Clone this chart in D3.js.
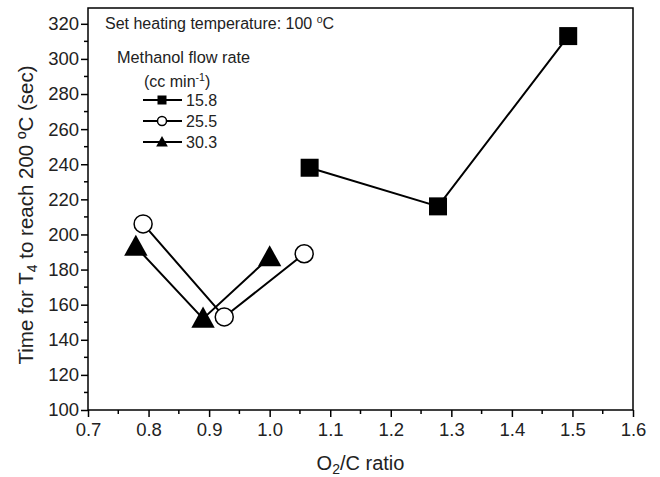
<!DOCTYPE html>
<html>
<head>
<meta charset="utf-8">
<script src="https://cdn.jsdelivr.net/npm/d3@7"></script>
<style>
  html, body { margin: 0; padding: 0; background: #fff; }
  svg { display: block; font-family: "Liberation Sans", Arial, sans-serif; }
</style>
</head>
<body>
<svg id="chart" width="660" height="477"></svg>
<script>
// O2/C ratio vs. time for T4 to reach 200 °C, per methanol flow rate
const series = ["15.8", "25.5", "30.3"];
const markers = ["square", "circle", "triangle"];
const ratio158 = [1.066, 1.278, 1.493];
const time158 = [238, 216, 313];
const ratio255 = [0.791, 0.925, 1.057];
const time255 = [206, 153, 189];
const ratio303 = [0.779, 0.890, 1.000];
const time303 = [193, 152, 187];
const xTicks = [0.7, 0.8, 0.9, 1.0, 1.1, 1.2, 1.3, 1.4, 1.5, 1.6];
const yTicks = [100, 120, 140, 160, 180, 200, 220, 240, 260, 280, 300, 320];

const data = [
  { name: series[0], marker: markers[0], xs: ratio158, ys: time158 },
  { name: series[1], marker: markers[1], xs: ratio255, ys: time255 },
  { name: series[2], marker: markers[2], xs: ratio303, ys: time303 }
];

const svg = d3.select("#chart");
const m = { left: 88, right: 633, top: 8, bottom: 410 };

const x = d3.scaleLinear().domain([0.7, 1.6]).range([m.left, m.right]);
const y = d3.scaleLinear().domain([100, 329]).range([m.bottom, m.top]);

// frame
svg.append("rect")
  .attr("x", m.left).attr("y", m.top)
  .attr("width", m.right - m.left).attr("height", m.bottom - m.top)
  .attr("fill", "none").attr("stroke", "#000").attr("stroke-width", 1.5);

// minor ticks
const xMinor = d3.range(0.75, 1.6, 0.1);
const yMinor = d3.range(110, 330, 20);
svg.append("g").selectAll("line").data(xMinor).join("line")
  .attr("x1", d => x(d)).attr("x2", d => x(d))
  .attr("y1", m.bottom).attr("y2", m.bottom + 4)
  .attr("stroke", "#000").attr("stroke-width", 1.5);
svg.append("g").selectAll("line").data(yMinor).join("line")
  .attr("y1", d => y(d)).attr("y2", d => y(d))
  .attr("x1", m.left).attr("x2", m.left - 4)
  .attr("stroke", "#000").attr("stroke-width", 1.5);

// axes
const xAxis = svg.append("g")
  .attr("transform", `translate(0,${m.bottom})`)
  .call(d3.axisBottom(x).tickValues(xTicks).tickFormat(d3.format(".1f")).tickSize(7).tickPadding(6));
const yAxis = svg.append("g")
  .attr("transform", `translate(${m.left},0)`)
  .call(d3.axisLeft(y).tickValues(yTicks).tickSize(7).tickPadding(2));
[xAxis, yAxis].forEach(g => {
  g.select(".domain").remove();
  g.selectAll(".tick line").attr("stroke", "#000").attr("stroke-width", 1.5);
  g.selectAll(".tick text").attr("fill", "#222").attr("font-size", 18.5)
    .attr("font-family", "Liberation Sans, Arial, sans-serif");
});

// axis titles
const xt = svg.append("text")
  .attr("x", (m.left + m.right) / 2).attr("y", 470)
  .attr("text-anchor", "middle").attr("font-size", 20).attr("fill", "#222");
xt.append("tspan").text("O");
xt.append("tspan").attr("baseline-shift", "-30%").attr("font-size", 14).text("2");
xt.append("tspan").text("/C ratio");

const yt = svg.append("text")
  .attr("transform", `translate(33,${(m.top + m.bottom) / 2 + 6}) rotate(-90)`)
  .attr("text-anchor", "middle").attr("font-size", 20.5).attr("fill", "#222");
yt.append("tspan").text("Time for T");
yt.append("tspan").attr("baseline-shift", "-30%").attr("font-size", 14).text("4");
yt.append("tspan").text(" to reach 200 \u00BAC (sec)");

// marker drawing
function drawMarker(g, type, cx, cy, s) {
  if (type === "square") {
    g.append("rect").attr("x", cx - s / 2).attr("y", cy - s / 2)
      .attr("width", s).attr("height", s).attr("fill", "#000");
  } else if (type === "circle") {
    g.append("circle").attr("cx", cx).attr("cy", cy).attr("r", s / 2)
      .attr("fill", "#fff").attr("stroke", "#000").attr("stroke-width", 1.5);
  } else {
    const w = s * 1.3, h = s * 1.12;
    g.append("path")
      .attr("d", `M${cx},${cy - h * 0.6}L${cx + w / 2},${cy + h * 0.45}L${cx - w / 2},${cy + h * 0.45}Z`)
      .attr("fill", "#000");
  }
}

const line = d3.line();
const plot = svg.append("g");
data.forEach(s => {
  const pts = s.xs.map((v, i) => [x(v), y(s.ys[i])]);
  plot.append("path").attr("d", line(pts))
    .attr("fill", "none").attr("stroke", "#000").attr("stroke-width", 2);
});
data.forEach(s => {
  s.xs.forEach((v, i) => drawMarker(plot, s.marker, x(v), y(s.ys[i]), 18));
});

// annotation and legend
const note = svg.append("text").attr("x", 105).attr("y", 29)
  .attr("font-size", 16).attr("fill", "#222");
note.append("tspan").text("Set heating temperature: 100 ");
note.append("tspan").attr("baseline-shift", "super").attr("font-size", 10.5).text("o");
note.append("tspan").attr("baseline-shift", "0").text("C");

svg.append("text").attr("x", 117).attr("y", 63).attr("font-size", 16.3)
  .attr("fill", "#222").text("Methanol flow rate");
const unit = svg.append("text").attr("x", 144).attr("y", 87).attr("font-size", 16).attr("fill", "#222");
unit.append("tspan").text("(cc min");
unit.append("tspan").attr("baseline-shift", "super").attr("font-size", 10.5).text("-1");
unit.append("tspan").text(")");

const legend = svg.append("g");
data.forEach((s, i) => {
  const cy = 100 + i * 21;
  legend.append("line").attr("x1", 143).attr("x2", 182).attr("y1", cy).attr("y2", cy)
    .attr("stroke", "#000").attr("stroke-width", 2);
  drawMarker(legend, s.marker, 162, cy, 9);
  legend.append("text").attr("x", 186).attr("y", cy + 6).attr("font-size", 16)
    .attr("fill", "#222").text(s.name);
});
</script>
</body>
</html>
